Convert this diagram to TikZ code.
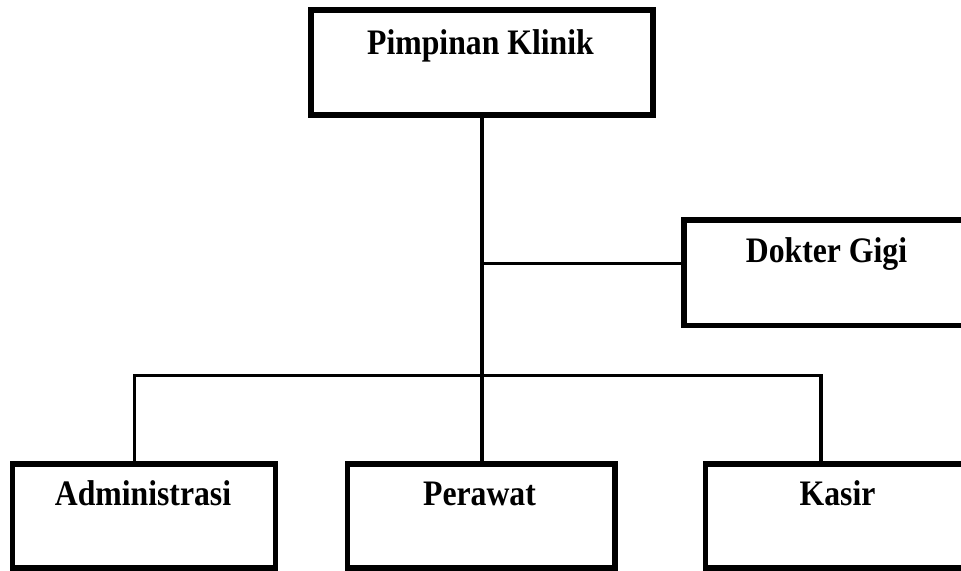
\documentclass[tikz,border=0pt]{standalone}
\usepackage{graphicx}
\usepackage{fontspec}
\setmainfont{Liberation Serif}
\newcommand{\tallt}[1]{\scalebox{1}[1.13]{#1}}
\begin{document}
\begin{tikzpicture}[x=0.75pt,y=-0.75pt,
  orgbox/.style={draw=black,line width=3.9pt,rectangle,inner sep=0pt,fill=white},
  orgtext/.style={anchor=base,inner sep=0pt,font=\fontsize{23.8}{28}\selectfont\bfseries},
  conn/.style={draw=black,line width=2.7pt}]
\useasboundingbox (0,0) rectangle (961,571);
\clip (0,0) rectangle (961,571);
% boxes
\node[orgbox,minimum width=342*0.75pt,minimum height=105*0.75pt] (pk) at (482,62.5) {};
\node[orgbox,minimum width=285*0.75pt,minimum height=105.5*0.75pt] (dg) at (826.5,272.75) {};
\node[orgbox,minimum width=263*0.75pt,minimum height=104*0.75pt] (ad) at (144,516) {};
\node[orgbox,minimum width=267.5*0.75pt,minimum height=104*0.75pt] (pr) at (481.25,516) {};
\node[orgbox,minimum width=263.5*0.75pt,minimum height=104*0.75pt] (ks) at (837.25,516) {};
% texts
\node[orgtext] (tpk) at (480.5,54) {\tallt{Pimpinan Klinik}};
\node[orgtext] (tdg) at (826.5,262) {\tallt{Dokter Gigi}};
\node[orgtext] (tad) at (143,505) {\tallt{Administrasi}};
\node[orgtext] (tpr) at (479.5,505) {\tallt{Perawat}};
\node[orgtext] (tks) at (837.5,505) {\tallt{Kasir}};
% connectors
\coordinate (jd) at (482,263.5);
\coordinate (bl) at (134.5,375.5);
\coordinate (br) at (821,375.5);
\draw[conn] (pk.south -| jd) -- (pr.north -| jd);
\draw[conn] (jd) -- (jd -| dg.west);
\draw[conn] (ad.north -| bl) -- (bl) -- (br) -- (ks.north -| br);
\end{tikzpicture}
\end{document}
